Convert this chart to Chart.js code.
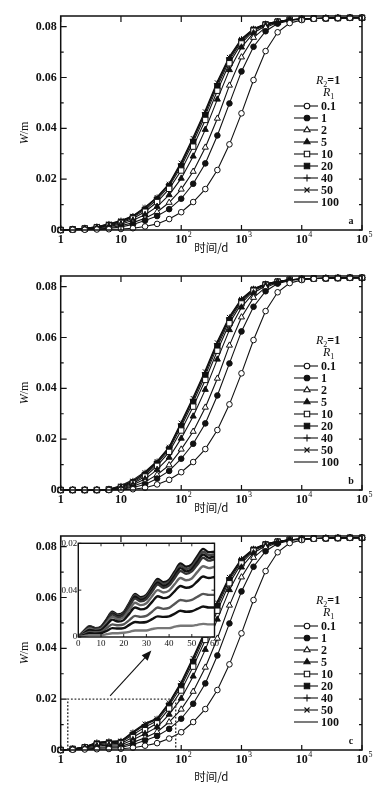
<!DOCTYPE html>
<html>
<head>
<meta charset="utf-8">
<script src="https://cdn.jsdelivr.net/npm/chart.js@4/dist/chart.umd.min.js"></script>
<style>
body { margin: 0; background: #fff; }
#wrap { position: relative; width: 389px; height: 791px; }
canvas { position: absolute; left: 0; }
</style>
</head>
<body>
<div id="wrap">
  <canvas id="chartA" style="top:0px" width="389" height="260"></canvas>
  <canvas id="chartB" style="top:260px" width="389" height="260"></canvas>
  <canvas id="chartC" style="top:520px" width="389" height="271"></canvas>
  <canvas id="inset" style="top:536px;left:50px" width="175" height="120"></canvas>
</div>
<script>
// time points (d), 5 per decade
const xValues = [1, 1.58, 2.51, 3.98, 6.31, 10, 15.8, 25.1, 39.8, 63.1,
  100, 158, 251, 398, 631, 1000, 1585, 2512, 3981, 6310,
  10000, 15850, 25120, 39810, 63100, 100000];

const r1Labels = ['0.1', '1', '2', '5', '10', '20', '40', '50', '100'];

// W (m) from 100 d on, same for the three panels
const lateW = [
  [0.0070, 0.0110, 0.0161, 0.0236, 0.0337, 0.0459, 0.0590, 0.0704, 0.0778, 0.0814, 0.0826, 0.0831, 0.0833, 0.0834, 0.0835, 0.0835],
  [0.0123, 0.0182, 0.0262, 0.0372, 0.0498, 0.0624, 0.0721, 0.0782, 0.0812, 0.0824, 0.0829, 0.0832, 0.0833, 0.0834, 0.0835, 0.0835],
  [0.0160, 0.0230, 0.0325, 0.0439, 0.0569, 0.0680, 0.0757, 0.0797, 0.0816, 0.0826, 0.0830, 0.0832, 0.0833, 0.0834, 0.0835, 0.0835],
  [0.0203, 0.0290, 0.0395, 0.0514, 0.0630, 0.0719, 0.0775, 0.0804, 0.0818, 0.0826, 0.0830, 0.0832, 0.0833, 0.0834, 0.0835, 0.0835],
  [0.0234, 0.0328, 0.0433, 0.0548, 0.0656, 0.0734, 0.0784, 0.0807, 0.0819, 0.0827, 0.0830, 0.0832, 0.0833, 0.0834, 0.0835, 0.0835],
  [0.0250, 0.0345, 0.0450, 0.0565, 0.0668, 0.0743, 0.0788, 0.0809, 0.0820, 0.0827, 0.0830, 0.0832, 0.0833, 0.0834, 0.0835, 0.0835],
  [0.0260, 0.0357, 0.0462, 0.0576, 0.0677, 0.0749, 0.0790, 0.0810, 0.0820, 0.0827, 0.0830, 0.0832, 0.0833, 0.0834, 0.0835, 0.0835],
  [0.0263, 0.0360, 0.0465, 0.0579, 0.0679, 0.0750, 0.0791, 0.0810, 0.0821, 0.0827, 0.0830, 0.0832, 0.0833, 0.0834, 0.0835, 0.0835],
  [0.0268, 0.0366, 0.0471, 0.0585, 0.0684, 0.0753, 0.0792, 0.0811, 0.0821, 0.0827, 0.0830, 0.0832, 0.0833, 0.0834, 0.0835, 0.0835]
];

// W (m) for 1 .. 63 d, per panel
const earlyA = [
  [0, 0.0001, 0.0001, 0.0002, 0.0003, 0.0004, 0.0007, 0.0014, 0.0024, 0.0043],
  [0, 0.0001, 0.0002, 0.0004, 0.0007, 0.0012, 0.0022, 0.0037, 0.0055, 0.0082],
  [0, 0.0001, 0.0003, 0.0006, 0.0010, 0.0017, 0.0029, 0.0046, 0.0071, 0.0108],
  [0, 0.0002, 0.0004, 0.0008, 0.0014, 0.0023, 0.0038, 0.0060, 0.0092, 0.0138],
  [0, 0.0002, 0.0005, 0.0010, 0.0017, 0.0028, 0.0045, 0.0072, 0.0110, 0.0162],
  [0, 0.0003, 0.0006, 0.0011, 0.0020, 0.0032, 0.0050, 0.0080, 0.0120, 0.0172],
  [0, 0.0003, 0.0007, 0.0012, 0.0022, 0.0035, 0.0053, 0.0086, 0.0126, 0.0178],
  [0, 0.0003, 0.0007, 0.0013, 0.0023, 0.0036, 0.0054, 0.0088, 0.0128, 0.0180],
  [0, 0.0003, 0.0007, 0.0013, 0.0024, 0.0037, 0.0056, 0.0090, 0.0130, 0.0183]
];
const earlyB = [
  [0, 0, 0, 0, 0, 0.0001, 0.0003, 0.0009, 0.0022, 0.0040],
  [0, 0, 0, 0, 0, 0.0003, 0.0010, 0.0022, 0.0045, 0.0075],
  [0, 0, 0, 0, 0.0001, 0.0005, 0.0015, 0.0032, 0.0060, 0.0098],
  [0, 0, 0, 0, 0.0001, 0.0007, 0.0021, 0.0043, 0.0080, 0.0128],
  [0, 0, 0, 0, 0.0002, 0.0010, 0.0026, 0.0053, 0.0095, 0.0150],
  [0, 0, 0, 0, 0.0002, 0.0012, 0.0030, 0.0060, 0.0104, 0.0160],
  [0, 0, 0, 0, 0.0003, 0.0014, 0.0034, 0.0066, 0.0110, 0.0166],
  [0, 0, 0, 0, 0.0003, 0.0015, 0.0035, 0.0068, 0.0112, 0.0168],
  [0, 0, 0, 0, 0.0003, 0.0018, 0.0040, 0.0072, 0.0114, 0.0170]
];
const earlyC = [
  [0, 0.0001, 0.0002, 0.0003, 0.0004, 0.0005, 0.0009, 0.0017, 0.0027, 0.0045],
  [0, 0.0002, 0.0004, 0.0007, 0.0009, 0.0010, 0.0022, 0.0037, 0.0055, 0.0083],
  [0, 0.0002, 0.0006, 0.0011, 0.0013, 0.0014, 0.0030, 0.0048, 0.0071, 0.0110],
  [0, 0.0003, 0.0008, 0.0016, 0.0019, 0.0020, 0.0040, 0.0064, 0.0090, 0.0140],
  [0, 0.0004, 0.0010, 0.0021, 0.0024, 0.0026, 0.0050, 0.0078, 0.0105, 0.0163],
  [0, 0.0004, 0.0011, 0.0025, 0.0029, 0.0031, 0.0060, 0.0090, 0.0115, 0.0175],
  [0, 0.0004, 0.0012, 0.0028, 0.0032, 0.0034, 0.0067, 0.0099, 0.0121, 0.0182],
  [0, 0.0004, 0.0012, 0.0029, 0.0033, 0.0035, 0.0069, 0.0102, 0.0123, 0.0185],
  [0, 0.0004, 0.0013, 0.0030, 0.0034, 0.0036, 0.0072, 0.0105, 0.0125, 0.0188]
];

// tick labels
const xTickValues = [1, 10, 100, 1000, 10000, 100000];
const xTickBase = ['1', '10', '10', '10', '10', '10'];
const xTickExp = ['', '', '2', '3', '4', '5'];
const yTickValues = [0, 0.01, 0.02, 0.03, 0.04, 0.05, 0.06, 0.07, 0.08];
const yTickLabels = ['0', '', '0.02', '', '0.04', '', '0.06', '', '0.08'];

// panel c: zoom box and arrow (data coords)
const zoomBoxX = [1.31, 81];
const zoomBoxY = [0, 0.02];
const arrowStart = [6.6, 0.0213];
const arrowEnd = [32, 0.0391];

// inset (0-60 d)
const insetX = [0, 2.5, 5, 7.5, 10, 12.5, 15, 17.5, 20, 22.5, 25, 27.5, 30,
  32.5, 35, 37.5, 40, 42.5, 45, 47.5, 50, 52.5, 55, 57.5, 60];
const insetW = [
  [0, 0.0002, 0.0004, 0.0004, 0.0004, 0.0006, 0.0008, 0.0008, 0.0009, 0.0011, 0.0014, 0.0014, 0.0014, 0.0017, 0.0019, 0.0019, 0.0019, 0.0022, 0.0024, 0.0024, 0.0024, 0.0026, 0.0028, 0.0027, 0.0027],
  [0, 0.0004, 0.0008, 0.0007, 0.0008, 0.0013, 0.0019, 0.0018, 0.0019, 0.0026, 0.0032, 0.0031, 0.0032, 0.0038, 0.0044, 0.0043, 0.0044, 0.0050, 0.0056, 0.0054, 0.0055, 0.0060, 0.0065, 0.0063, 0.0063],
  [0, 0.0006, 0.0011, 0.0010, 0.0011, 0.0019, 0.0027, 0.0025, 0.0027, 0.0036, 0.0045, 0.0043, 0.0045, 0.0054, 0.0063, 0.0060, 0.0062, 0.0071, 0.0079, 0.0077, 0.0079, 0.0086, 0.0092, 0.0090, 0.0090],
  [0, 0.0008, 0.0015, 0.0013, 0.0015, 0.0026, 0.0037, 0.0033, 0.0036, 0.0050, 0.0063, 0.0059, 0.0062, 0.0075, 0.0087, 0.0083, 0.0086, 0.0098, 0.0109, 0.0105, 0.0108, 0.0119, 0.0129, 0.0126, 0.0128],
  [0, 0.0010, 0.0018, 0.0015, 0.0017, 0.0030, 0.0043, 0.0038, 0.0042, 0.0058, 0.0073, 0.0068, 0.0072, 0.0087, 0.0100, 0.0095, 0.0099, 0.0113, 0.0126, 0.0121, 0.0125, 0.0139, 0.0151, 0.0147, 0.0150],
  [0, 0.0011, 0.0020, 0.0016, 0.0019, 0.0033, 0.0048, 0.0042, 0.0047, 0.0065, 0.0082, 0.0076, 0.0081, 0.0097, 0.0112, 0.0105, 0.0110, 0.0126, 0.0141, 0.0135, 0.0140, 0.0155, 0.0169, 0.0163, 0.0166],
  [0, 0.0012, 0.0021, 0.0017, 0.0020, 0.0035, 0.0050, 0.0044, 0.0049, 0.0068, 0.0086, 0.0079, 0.0084, 0.0101, 0.0116, 0.0109, 0.0114, 0.0131, 0.0147, 0.0140, 0.0145, 0.0161, 0.0176, 0.0169, 0.0172],
  [0, 0.0012, 0.0022, 0.0018, 0.0021, 0.0036, 0.0052, 0.0046, 0.0051, 0.0070, 0.0089, 0.0082, 0.0087, 0.0104, 0.0120, 0.0113, 0.0118, 0.0135, 0.0152, 0.0145, 0.0150, 0.0167, 0.0182, 0.0175, 0.0177],
  [0, 0.0013, 0.0023, 0.0019, 0.0022, 0.0038, 0.0054, 0.0048, 0.0053, 0.0073, 0.0092, 0.0085, 0.0090, 0.0108, 0.0124, 0.0117, 0.0122, 0.0140, 0.0157, 0.0150, 0.0155, 0.0173, 0.0188, 0.0181, 0.0182]
];
const insetXTicks = [0, 10, 20, 30, 40, 50, 60];
const insetYTicks = [0, 0.01, 0.02];
const insetYLabels = ['0', '0.04', '0.02'];

// marker styles per R1
const markerStyles = ['circle', 'circle', 'triangle', 'triangle', 'rect', 'rect', 'cross', 'crossRot', 'none'];
const markerFilled = [false, true, false, true, false, true, true, true, true];
const insetColors = ['#777', '#111', '#555', '#111', '#666', '#333', '#111', '#444', '#111'];

const INK = '#111';
const SERIF = '"Liberation Serif", "DejaVu Serif", serif';
const NUMFONT = 'bold 12px ' + SERIF;

function drawMarker(ctx, style, filled, x, y) {
  ctx.beginPath();
  if (style === 'circle') ctx.arc(x, y, 2.8, 0, Math.PI * 2);
  else if (style === 'triangle') { ctx.moveTo(x, y - 3.5); ctx.lineTo(x + 3.1, y + 1.8); ctx.lineTo(x - 3.1, y + 1.8); ctx.closePath(); }
  else if (style === 'rect') ctx.rect(x - 2.7, y - 2.7, 5.4, 5.4);
  else if (style === 'cross') { ctx.moveTo(x - 3.5, y); ctx.lineTo(x + 3.5, y); ctx.moveTo(x, y - 3.5); ctx.lineTo(x, y + 3.5); }
  else if (style === 'crossRot') { ctx.moveTo(x - 2.5, y - 2.5); ctx.lineTo(x + 2.5, y + 2.5); ctx.moveTo(x + 2.5, y - 2.5); ctx.lineTo(x - 2.5, y + 2.5); }
  if (style === 'circle' || style === 'triangle' || style === 'rect') {
    ctx.fillStyle = filled ? INK : '#fff';
    ctx.fill();
  }
  ctx.stroke();
}

// frame, inward ticks, labels, legend
const framePlugin = {
  id: 'frame',
  afterDatasetsDraw(chart, args, opts) {
    const ctx = chart.ctx, a = chart.chartArea;
    const x = chart.scales.x, y = chart.scales.y;
    ctx.save();
    ctx.strokeStyle = INK;
    ctx.fillStyle = INK;

    if (opts.zoomBox) {
      ctx.save();
      ctx.strokeStyle = '#333';
      ctx.lineWidth = 1.4;
      ctx.setLineDash([1.8, 1.8]);
      const bx0 = x.getPixelForValue(zoomBoxX[0]), bx1 = x.getPixelForValue(zoomBoxX[1]);
      const by0 = y.getPixelForValue(zoomBoxY[0]), by1 = y.getPixelForValue(zoomBoxY[1]);
      ctx.beginPath();
      ctx.moveTo(bx0, by0); ctx.lineTo(bx0, by1); ctx.lineTo(bx1, by1); ctx.lineTo(bx1, by0);
      ctx.stroke();
      ctx.setLineDash([]);
      const ax0 = x.getPixelForValue(arrowStart[0]), ay0 = y.getPixelForValue(arrowStart[1]);
      const ax1 = x.getPixelForValue(arrowEnd[0]), ay1 = y.getPixelForValue(arrowEnd[1]);
      const ang = Math.atan2(ay1 - ay0, ax1 - ax0);
      ctx.strokeStyle = INK;
      ctx.lineWidth = 1.1;
      ctx.beginPath();
      ctx.moveTo(ax0, ay0);
      ctx.lineTo(ax1 - 8 * Math.cos(ang), ay1 - 8 * Math.sin(ang));
      ctx.stroke();
      ctx.beginPath();
      ctx.moveTo(ax1, ay1);
      ctx.lineTo(ax1 - 10 * Math.cos(ang) + 4 * Math.sin(ang), ay1 - 10 * Math.sin(ang) - 4 * Math.cos(ang));
      ctx.lineTo(ax1 - 10 * Math.cos(ang) - 4 * Math.sin(ang), ay1 - 10 * Math.sin(ang) + 4 * Math.cos(ang));
      ctx.closePath();
      ctx.fill();
      ctx.restore();
    }

    ctx.lineWidth = 1.5;
    ctx.strokeRect(a.left, a.top, a.right - a.left, a.bottom - a.top);

    ctx.lineWidth = 1.2;
    ctx.beginPath();
    xTickValues.forEach(v => {
      const px = x.getPixelForValue(v);
      ctx.moveTo(px, a.bottom); ctx.lineTo(px, a.bottom - 5);
      ctx.moveTo(px, a.top); ctx.lineTo(px, a.top + 6);
    });
    yTickValues.forEach((v, i) => {
      const py = y.getPixelForValue(v);
      const len = yTickLabels[i] ? 6 : 3;
      ctx.moveTo(a.left, py); ctx.lineTo(a.left + len, py);
      ctx.moveTo(a.right, py); ctx.lineTo(a.right - 3, py);
    });
    ctx.stroke();

    // y tick labels
    ctx.font = NUMFONT;
    ctx.textAlign = 'right';
    ctx.textBaseline = 'middle';
    yTickValues.forEach((v, i) => {
      if (yTickLabels[i]) ctx.fillText(yTickLabels[i], a.left - 4, y.getPixelForValue(v));
    });

    // x tick labels with exponents
    ctx.textBaseline = 'top';
    xTickValues.forEach((v, i) => {
      const px = x.getPixelForValue(v);
      ctx.font = NUMFONT;
      ctx.textAlign = 'center';
      ctx.fillText(xTickBase[i], px, a.bottom + 4);
      if (xTickExp[i]) {
        const w = ctx.measureText(xTickBase[i]).width;
        ctx.font = '8px ' + SERIF;
        ctx.textAlign = 'left';
        ctx.fillText(xTickExp[i], px + w / 2 + 0.5, a.bottom + 1);
      }
    });

    // axis titles
    ctx.font = '11.5px "Noto Sans CJK SC", sans-serif';
    ctx.textAlign = 'center';
    ctx.textBaseline = 'middle';
    ctx.fillText('时间/d', (a.left + a.right) / 2, a.bottom + opts.titleGap);

    ctx.save();
    ctx.translate(25, (a.top + a.bottom) / 2 + 10);
    ctx.rotate(-Math.PI / 2);
    ctx.font = 'italic 12px ' + SERIF;
    const wW = ctx.measureText('W').width;
    ctx.font = '12px ' + SERIF;
    const wM = ctx.measureText('/m').width;
    ctx.textAlign = 'left';
    ctx.font = 'italic 12px ' + SERIF;
    ctx.fillText('W', -(wW + wM) / 2, 0);
    ctx.font = '12px ' + SERIF;
    ctx.fillText('/m', -(wW + wM) / 2 + wW, 0);
    ctx.restore();

    // legend
    ctx.textAlign = 'left';
    ctx.textBaseline = 'middle';
    let lx = a.right - 46;
    ctx.font = 'italic 12px ' + SERIF;
    ctx.fillText('R', lx, a.top + 65);
    lx += ctx.measureText('R').width;
    ctx.font = '8px ' + SERIF;
    ctx.fillText('2', lx, a.top + 69);
    lx += ctx.measureText('2').width;
    ctx.font = NUMFONT;
    ctx.fillText('=1', lx, a.top + 65);
    lx = a.right - 39;
    ctx.font = 'italic 12px ' + SERIF;
    ctx.fillText('R', lx, a.top + 77);
    lx += ctx.measureText('R').width;
    ctx.font = '8px ' + SERIF;
    ctx.fillText('1', lx, a.top + 81);

    ctx.lineWidth = 1.1;
    r1Labels.forEach((lab, i) => {
      const ly = a.top + 90 + i * 12;
      ctx.beginPath();
      ctx.moveTo(a.right - 68, ly); ctx.lineTo(a.right - 44, ly);
      ctx.stroke();
      drawMarker(ctx, markerStyles[i], markerFilled[i], a.right - 55, ly);
      ctx.fillStyle = INK;
      ctx.font = NUMFONT;
      ctx.fillText(lab, a.right - 41, ly + 0.5);
    });

    ctx.font = 'bold 10px ' + SERIF;
    ctx.textAlign = 'center';
    ctx.fillText(opts.letter, a.right - 11, a.bottom - 9);
    ctx.restore();
  }
};

function makeDatasets(early) {
  return r1Labels.map((lab, i) => {
    const w = early[i].concat(lateW[i]);
    const style = markerStyles[i];
    return {
      label: lab,
      data: xValues.map((t, j) => ({ x: t, y: w[j] })),
      showLine: true,
      borderColor: INK,
      borderWidth: 1.1,
      pointStyle: style === 'none' ? 'circle' : style,
      pointRadius: style === 'none' ? 0 : (style === 'rect' ? 3.8 : (style === 'circle' ? 2.8 : 3.5)),
      pointBorderWidth: 1,
      pointBorderColor: INK,
      pointBackgroundColor: markerFilled[i] && style !== 'none' ? INK : '#fff',
      clip: false
    };
  });
}

function makePanel(id, early, letter, height, titleGap, zoomBox) {
  new Chart(document.getElementById(id), {
    type: 'scatter',
    data: { datasets: makeDatasets(early) },
    options: {
      responsive: false,
      animation: false,
      events: [],
      layout: { padding: { left: 60.7, top: 16, right: 27, bottom: height - 230 } },
      plugins: {
        legend: { display: false },
        tooltip: { enabled: false },
        frame: { letter: letter, titleGap: titleGap, zoomBox: zoomBox }
      },
      scales: {
        x: { type: 'logarithmic', min: 1, max: 100000, display: false },
        y: { type: 'linear', min: 0, max: 0.0842, display: false }
      }
    },
    plugins: [framePlugin]
  });
}

makePanel('chartA', earlyA, 'a', 260, 18, false);
makePanel('chartB', earlyB, 'b', 260, 18, false);
makePanel('chartC', earlyC, 'c', 271, 27, true);

// inset chart
const insetPlugin = {
  id: 'insetFrame',
  beforeDatasetsDraw(chart) {
    const ctx = chart.ctx, a = chart.chartArea;
    ctx.save();
    ctx.fillStyle = '#fff';
    ctx.fillRect(a.left, a.top, a.right - a.left, a.bottom - a.top);
    ctx.restore();
  },
  afterDatasetsDraw(chart) {
    const ctx = chart.ctx, a = chart.chartArea;
    const x = chart.scales.x, y = chart.scales.y;
    ctx.save();
    ctx.strokeStyle = INK;
    ctx.fillStyle = INK;
    ctx.lineWidth = 1.4;
    ctx.strokeRect(a.left, a.top, a.right - a.left, a.bottom - a.top);
    ctx.lineWidth = 0.9;
    ctx.beginPath();
    insetXTicks.forEach(v => {
      const px = x.getPixelForValue(v);
      ctx.moveTo(px, a.bottom); ctx.lineTo(px, a.bottom - 3);
      ctx.moveTo(px, a.top); ctx.lineTo(px, a.top + 3);
    });
    insetYTicks.forEach(v => {
      const py = y.getPixelForValue(v);
      ctx.moveTo(a.left, py); ctx.lineTo(a.left + 3, py);
      ctx.moveTo(a.right, py); ctx.lineTo(a.right - 3, py);
    });
    ctx.stroke();
    ctx.font = '9px ' + SERIF;
    ctx.textAlign = 'center';
    ctx.textBaseline = 'top';
    insetXTicks.forEach(v => ctx.fillText(String(v), x.getPixelForValue(v), a.bottom + 2));
    ctx.textAlign = 'right';
    ctx.textBaseline = 'middle';
    insetYTicks.forEach((v, i) => ctx.fillText(insetYLabels[i], a.left - 1, y.getPixelForValue(v)));
    ctx.restore();
  }
};

new Chart(document.getElementById('inset'), {
  type: 'scatter',
  data: {
    datasets: r1Labels.map((lab, i) => ({
      label: lab,
      data: insetX.map((t, j) => ({ x: t, y: insetW[i][j] })),
      showLine: true,
      borderColor: insetColors[i],
      borderWidth: 2.4,
      pointRadius: 0,
      cubicInterpolationMode: 'monotone'
    }))
  },
  options: {
    responsive: false,
    animation: false,
    events: [],
    layout: { padding: { left: 28.3, top: 7.3, right: 10.5, bottom: 19 } },
    plugins: { legend: { display: false }, tooltip: { enabled: false } },
    scales: {
      x: { type: 'linear', min: 0, max: 60, display: false },
      y: { type: 'linear', min: 0, max: 0.02, display: false }
    }
  },
  plugins: [insetPlugin]
});
</script>
</body>
</html>
